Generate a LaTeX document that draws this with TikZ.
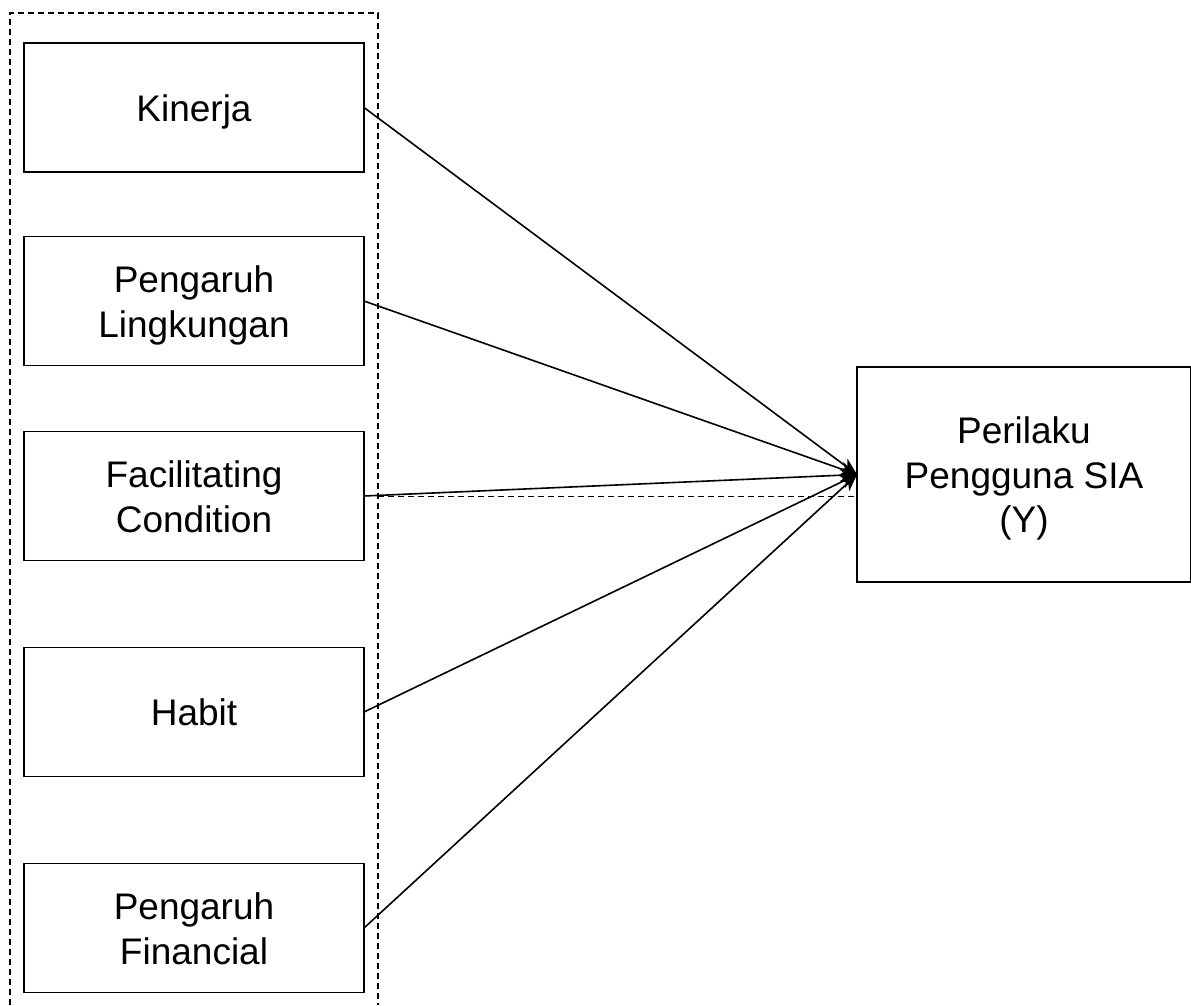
\documentclass[tikz,border=0pt]{standalone}
\usepackage{fontspec}
\setmainfont{Liberation Sans}
\usetikzlibrary{arrows.meta}
\newsavebox\mytextbox
\newcommand{\boxtext}[1]{\sbox\mytextbox{\begin{tabular}{@{}c@{}}#1\end{tabular}}\raisebox{-5pt}[\ht\mytextbox][\dp\mytextbox]{\usebox\mytextbox}}
\begin{document}
\begin{tikzpicture}[x=1pt,y=-1pt,
  box/.style={draw,line width=1.5pt,minimum width=340pt,minimum height=129pt,inner sep=0pt,outer sep=0pt,font=\fontsize{37}{44.5}\selectfont},
  link/.style={line width=1.6pt,-{Stealth[length=17pt,width=14pt,inset=5pt]}},
  grp/.style={line width=1.4pt,dash pattern=on 6pt off 4pt}]
\useasboundingbox (0,0) rectangle (1191,1005);
\node[box] (k) at (194,107.5) {\boxtext{Kinerja}};
\node[box] (pl) at (194,301) {\boxtext{Pengaruh\\Lingkungan}};
\node[box] (fc) at (194,496) {\boxtext{Facilitating\\Condition}};
\node[box] (h) at (194,712) {\boxtext{Habit}};
\node[box] (pf) at (194,928) {\boxtext{Pengaruh\\Financial}};
\node[box,minimum width=334pt,minimum height=215pt] (y) at (1024,474.5) {\boxtext{Perilaku\\Pengguna SIA\\(Y)}};
\coordinate (gbl) at (10,1005);
\coordinate (gtl) at (10,13);
\coordinate (gtr) at (378,13);
\coordinate (gbr) at (378,1005);
\coordinate (gmid) at (378,496.5);
\draw[grp] (gbl) -- (gtl) -- (gtr) -- (gbr);
\draw[grp] (gmid) -- (gmid -| y.west);
\foreach \s in {k,pl,fc,h,pf}
  \draw[link] (\s.east) -- (y.west);
\end{tikzpicture}
\end{document}
